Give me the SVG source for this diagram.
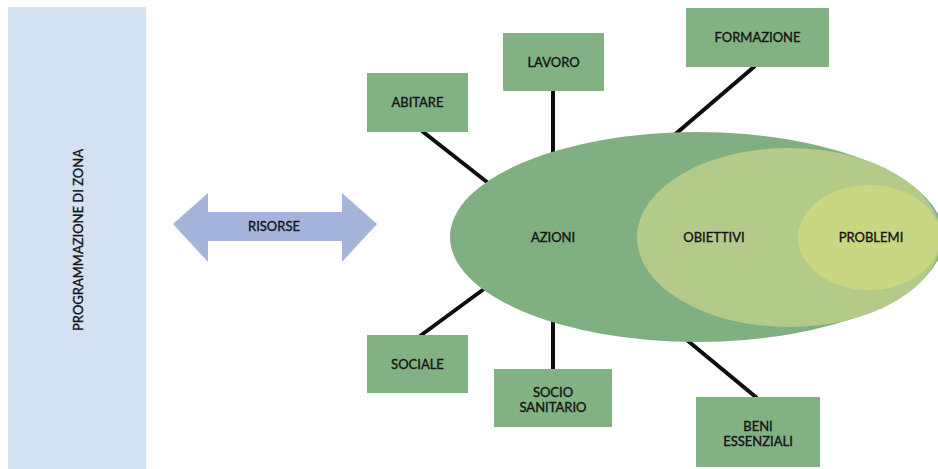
<svg xmlns="http://www.w3.org/2000/svg" width="938" height="469" viewBox="0 0 938 469">
  <style>
    .lbl { font-family: Lato, "Liberation Sans", sans-serif; font-size: 13px; fill: #141414; stroke: #141414; stroke-width: 0.35; text-anchor: middle; dominant-baseline: central; }
    .box { fill: #82b183; }
    .conn { stroke: #0d0d0d; stroke-width: 4; stroke-linecap: butt; fill: none; }
  </style>

  <!-- side panel -->
  <g id="programmazione">
    <rect x="8" y="7" width="138" height="462" fill="#d4e1f3"/>
    <text class="lbl" transform="translate(78,240) rotate(-90)">PROGRAMMAZIONE DI ZONA</text>
  </g>

  <!-- two-way resource arrow -->
  <g id="risorse">
    <polygon points="173,224 208,193 208,212 342,212 342,193 377,224 342,262 342,241 208,241 208,262" fill="#a4b4db"/>
    <text class="lbl" x="274" y="226">RISORSE</text>
  </g>

  <!-- connectors (drawn beneath the ellipse) -->
  <g id="connectors">
    <line class="conn" x1="422" y1="131" x2="492" y2="186"/>
    <line class="conn" x1="553" y1="90" x2="553" y2="160"/>
    <line class="conn" x1="755" y1="66" x2="672" y2="137"/>
    <line class="conn" x1="420" y1="336" x2="488" y2="286"/>
    <line class="conn" x1="553" y1="320" x2="553" y2="370"/>
    <line class="conn" x1="757" y1="398" x2="682" y2="336"/>
  </g>

  <!-- nested ellipses -->
  <g id="azioni">
    <ellipse cx="697" cy="237" rx="247" ry="105" fill="#80b081"/>
    <text class="lbl" x="553" y="237">AZIONI</text>
  </g>
  <g id="obiettivi">
    <ellipse cx="789" cy="237.5" rx="152" ry="89.5" fill="#b3ca89"/>
    <text class="lbl" x="714" y="237">OBIETTIVI</text>
  </g>
  <g id="problemi">
    <ellipse cx="869" cy="237.5" rx="71" ry="52.5" fill="#c9d782"/>
    <text class="lbl" x="871" y="237">PROBLEMI</text>
  </g>

  <!-- sector boxes -->
  <g id="abitare">
    <rect class="box" x="367" y="73" width="101" height="59"/>
    <text class="lbl" x="417.5" y="102">ABITARE</text>
  </g>
  <g id="lavoro">
    <rect class="box" x="503" y="33" width="101" height="58"/>
    <text class="lbl" x="553.5" y="62">LAVORO</text>
  </g>
  <g id="formazione">
    <rect class="box" x="686" y="8" width="143" height="59"/>
    <text class="lbl" x="757.5" y="37">FORMAZIONE</text>
  </g>
  <g id="sociale">
    <rect class="box" x="367" y="335" width="101" height="58"/>
    <text class="lbl" x="417.5" y="364">SOCIALE</text>
  </g>
  <g id="socio-sanitario">
    <rect class="box" x="494" y="369" width="118" height="58"/>
    <text class="lbl" x="553" y="391.5">SOCIO</text>
    <text class="lbl" x="553" y="406.5">SANITARIO</text>
  </g>
  <g id="beni-essenziali">
    <rect class="box" x="696" y="397" width="124" height="70"/>
    <text class="lbl" x="758" y="425.5">BENI</text>
    <text class="lbl" x="758" y="440.5">ESSENZIALI</text>
  </g>
</svg>
